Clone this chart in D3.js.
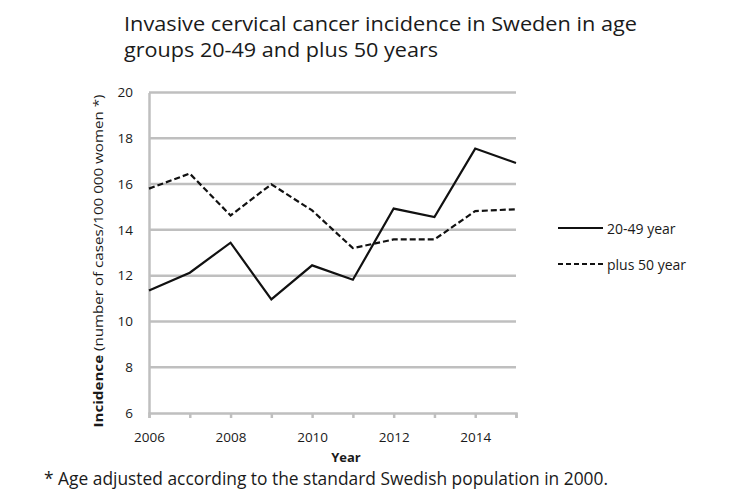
<!DOCTYPE html>
<html>
<head>
<meta charset="utf-8">
<script src="https://cdn.jsdelivr.net/npm/d3@7"></script>
<style>
  html, body { margin: 0; padding: 0; background: #fff; }
  svg { display: block; }
  text { font-family: "Open Sans", "DejaVu Sans", sans-serif; fill: #1a1a1a; }
</style>
</head>
<body>
<svg id="chart" width="754" height="496"></svg>
<script>
const years = [2006, 2007, 2008, 2009, 2010, 2011, 2012, 2013, 2014, 2015];
const age20to49 = [11.35, 12.13, 13.44, 10.96, 12.45, 11.82, 14.93, 14.56, 17.55, 16.92];
const plus50 = [15.8, 16.46, 14.63, 15.99, 14.85, 13.2, 13.58, 13.58, 14.82, 14.9];
const yTicks = [6, 8, 10, 12, 14, 16, 18, 20];
const xTickLabels = [2006, 2008, 2010, 2012, 2014];
const seriesNames = ["20-49 year", "plus 50 year"];
const titleLines = ["Invasive cervical cancer incidence in Sweden in age", "groups 20-49 and plus 50 years"];
const footnote = "* Age adjusted according to the standard Swedish population in 2000.";

const svg = d3.select("#chart");
const x = d3.scaleLinear().domain([2006, 2015]).range([149, 516]);
const y = d3.scaleLinear().domain([6, 20]).range([413, 92.5]);
const gray = "#bfbfbf";

// gridlines
svg.append("g").selectAll("line").data(yTicks.filter(d => d !== 6)).join("line")
  .attr("x1", x(2006)).attr("x2", x(2015))
  .attr("y1", d => y(d)).attr("y2", d => y(d))
  .attr("stroke", gray).attr("stroke-width", 2.5);

// y axis
const yAxis = svg.append("g").attr("transform", `translate(${x(2006)},0)`)
  .call(d3.axisLeft(y).tickValues(yTicks).tickSize(0).tickPadding(16));
yAxis.select(".domain").attr("stroke", gray).attr("stroke-width", 2.5);
yAxis.selectAll("text").attr("font-size", 13.5).attr("fill", "#1a1a1a")
  .style("font-family", '"Open Sans", sans-serif');

// x axis
const xAxis = svg.append("g").attr("transform", `translate(0,${y(6)})`)
  .call(d3.axisBottom(x).tickValues(years).tickSize(5).tickFormat(d => xTickLabels.includes(d) ? d : ""));
xAxis.select(".domain").attr("stroke", gray).attr("stroke-width", 2.5);
xAxis.selectAll(".tick line").attr("stroke", gray).attr("stroke-width", 2.5);
xAxis.selectAll("text").attr("font-size", 13.5).attr("fill", "#1a1a1a").attr("dy", "1.55em")
  .style("font-family", '"Open Sans", sans-serif');

// lines
const line = d3.line().x((d, i) => x(years[i])).y(d => y(d));
svg.append("path").datum(age20to49).attr("d", line)
  .attr("fill", "none").attr("stroke", "#111").attr("stroke-width", 2.2).attr("stroke-linejoin", "miter");
svg.append("path").datum(plus50).attr("d", line)
  .attr("fill", "none").attr("stroke", "#111").attr("stroke-width", 2.2).attr("stroke-dasharray", "6,3");

// legend
const legendY = [228, 264];
const leg = svg.append("g");
leg.selectAll("line").data(seriesNames).join("line")
  .attr("x1", 558).attr("x2", 603)
  .attr("y1", (d, i) => legendY[i]).attr("y2", (d, i) => legendY[i])
  .attr("stroke", "#111").attr("stroke-width", 2.2)
  .attr("stroke-dasharray", (d, i) => i === 1 ? "5,3" : null);
leg.selectAll("text").data(seriesNames).join("text")
  .attr("x", 607).attr("y", (d, i) => legendY[i] + 6)
  .attr("font-size", 14).text(d => d);

// title
svg.append("g").selectAll("text").data(titleLines).join("text")
  .attr("x", 124).attr("y", (d, i) => 31 + i * 26)
  .attr("font-size", 19.5).text(d => d)
  .attr("textLength", (d, i) => i === 0 ? 513 : 314)
  .attr("lengthAdjust", "spacingAndGlyphs");

// x axis title
svg.append("text").attr("x", 346).attr("y", 462).attr("text-anchor", "middle")
  .attr("font-size", 13).attr("font-weight", "bold").text("Year");

// y axis title
const yt = svg.append("text").attr("transform", "translate(103,261) rotate(-90)")
  .attr("text-anchor", "middle").attr("font-size", 12.5)
  .attr("textLength", 333).attr("lengthAdjust", "spacingAndGlyphs");
yt.append("tspan").attr("font-weight", "bold").text("Incidence");
yt.append("tspan").text(" (number of cases/100 000 women *)");

// footnote
svg.append("text").attr("x", 44).attr("y", 485).attr("font-size", 17.5)
  .attr("textLength", 564).attr("lengthAdjust", "spacingAndGlyphs")
  .text(footnote);
</script>
</body>
</html>
